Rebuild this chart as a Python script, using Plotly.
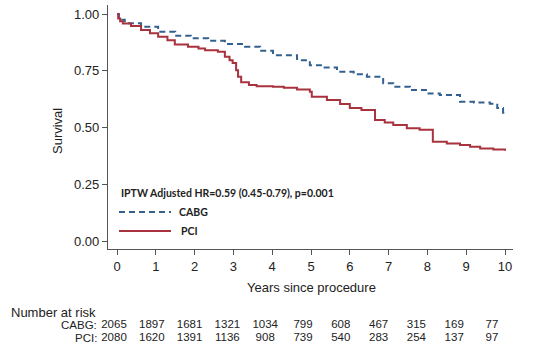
import plotly.graph_objects as go

# ---- data ----
pci_t = [0, 0.03, 0.08, 0.15, 0.36, 0.62, 0.85, 1.06, 1.3, 1.49, 1.83, 2.1, 2.27, 2.6, 2.78, 2.9, 2.98,
         3.07, 3.12, 3.2, 3.4, 3.6, 4.02, 4.3, 4.64, 4.97, 5.02, 5.41, 5.75, 6.0, 6.3, 6.65, 6.9, 7.12,
         7.47, 7.8, 8.14, 8.5, 8.84, 9.1, 9.36, 9.7, 10.0]
pci_s = [1.0, 0.98, 0.968, 0.958, 0.948, 0.93, 0.915, 0.90, 0.885, 0.866, 0.856, 0.848, 0.841, 0.834,
         0.812, 0.797, 0.784, 0.753, 0.724, 0.700, 0.687, 0.682, 0.680, 0.675, 0.668, 0.658, 0.636,
         0.621, 0.604, 0.586, 0.577, 0.533, 0.522, 0.511, 0.497, 0.490, 0.437, 0.430, 0.423, 0.415,
         0.408, 0.403, 0.398]

cabg_t = [0, 0.05, 0.2, 0.62, 1.06, 1.5, 1.9, 2.35, 2.78, 3.3, 3.69, 4.02, 4.64, 4.97, 5.3, 5.67, 6.1,
          6.44, 6.86, 7.12, 7.55, 8.0, 8.32, 8.84, 9.2, 9.61, 9.8, 9.95, 10.0]
cabg_s = [1.0, 0.975, 0.96, 0.944, 0.922, 0.904, 0.893, 0.882, 0.868, 0.856, 0.838, 0.819, 0.797,
          0.775, 0.765, 0.746, 0.735, 0.724, 0.695, 0.680, 0.665, 0.650, 0.643, 0.614, 0.610, 0.605,
          0.586, 0.565, 0.555]

risk_years = [0, 1, 2, 3, 4, 5, 6, 7, 8, 9, 10]
risk_cabg = [2065, 1897, 1681, 1321, 1034, 799, 608, 467, 315, 169, 77]
risk_pci = [2080, 1620, 1391, 1136, 908, 739, 540, 283, 254, 137, 97]

x_ticks = [0, 1, 2, 3, 4, 5, 6, 7, 8, 9, 10]
y_ticks = [0, 0.25, 0.5, 0.75, 1.0]
y_ticklabels = ["0.00", "0.25", "0.50", "0.75", "1.00"]

hr_text = "IPTW Adjusted HR=0.59 (0.45-0.79), p=0.001"

# ---- styling ----
W, H = 536, 351
BLUE = "#33608f"
RED = "#a8323e"
AX = "#555555"
TXT = "#222222"
FONT = "Liberation Sans, Arial, sans-serif"

def px_x(p):
    return p / W

def px_y(p):
    return 1 - p / H

fig = go.Figure()

fig.add_trace(go.Scatter(x=cabg_t, y=cabg_s, mode="lines", line_shape="hv",
                         line=dict(color=BLUE, width=2, dash="6px,4px"), name="CABG",
                         showlegend=False, xaxis="x", yaxis="y"))
fig.add_trace(go.Scatter(x=pci_t, y=pci_s, mode="lines", line_shape="hv",
                         line=dict(color=RED, width=2), name="PCI",
                         showlegend=False, xaxis="x", yaxis="y"))

# number at risk rows (on a hidden helper axis pair)
ROW_CABG_Y = 325
ROW_PCI_Y = 338
fig.add_trace(go.Scatter(x=risk_years, y=[ROW_CABG_Y] * len(risk_years), mode="text",
                         text=[str(v) for v in risk_cabg], textposition="middle center",
                         textfont=dict(family=FONT, size=11.5, color=TXT), cliponaxis=False,
                         showlegend=False, hoverinfo="skip", xaxis="x2", yaxis="y2"))
fig.add_trace(go.Scatter(x=risk_years, y=[ROW_PCI_Y] * len(risk_years), mode="text",
                         text=[str(v) for v in risk_pci], textposition="middle center",
                         textfont=dict(family=FONT, size=11.5, color=TXT), cliponaxis=False,
                         showlegend=False, hoverinfo="skip", xaxis="x2", yaxis="y2"))

xdom = [px_x(108), px_x(513)]
ydom = [px_y(249), px_y(5)]

annotations = [
    dict(text="Survival", textangle=-90, x=px_x(58), y=px_y(131), xref="paper", yref="paper",
         showarrow=False, font=dict(family=FONT, size=13, color=TXT), xanchor="center", yanchor="middle"),
    dict(text="Years since procedure", x=px_x(311), y=px_y(287), xref="paper", yref="paper",
         showarrow=False, font=dict(family=FONT, size=13, color=TXT), xanchor="center", yanchor="middle"),
    dict(text="Number at risk", x=px_x(9), y=px_y(312), xref="paper", yref="paper",
         showarrow=False, font=dict(family=FONT, size=13, color=TXT), xanchor="left", yanchor="middle"),
    dict(text="CABG:", x=px_x(99), y=px_y(ROW_CABG_Y), xref="paper", yref="paper",
         showarrow=False, font=dict(family=FONT, size=11.5, color=TXT), xanchor="right", yanchor="middle"),
    dict(text="PCI:", x=px_x(99), y=px_y(ROW_PCI_Y), xref="paper", yref="paper",
         showarrow=False, font=dict(family=FONT, size=11.5, color=TXT), xanchor="right", yanchor="middle"),
    dict(text="<b>" + hr_text + "</b>", x=px_x(119), y=px_y(193), xref="paper", yref="paper",
         showarrow=False, font=dict(family="Lato, sans-serif", size=10.5, color=TXT),
         xanchor="left", yanchor="middle"),
    dict(text="<b>CABG</b>", x=px_x(177), y=px_y(212), xref="paper", yref="paper",
         showarrow=False, font=dict(family="Lato, sans-serif", size=10.5, color=TXT),
         xanchor="left", yanchor="middle"),
    dict(text="<b>PCI</b>", x=px_x(179), y=px_y(231), xref="paper", yref="paper",
         showarrow=False, font=dict(family="Lato, sans-serif", size=10.5, color=TXT),
         xanchor="left", yanchor="middle"),
]

shapes = [
    dict(type="line", xref="paper", yref="paper", x0=px_x(119), x1=px_x(171), y0=px_y(212), y1=px_y(212),
         line=dict(color=BLUE, width=2, dash="6px,4px")),
    dict(type="line", xref="paper", yref="paper", x0=px_x(119), x1=px_x(171), y0=px_y(231), y1=px_y(231),
         line=dict(color=RED, width=2)),
]

fig.update_layout(
    width=W, height=H,
    margin=dict(l=0, r=0, t=0, b=0),
    paper_bgcolor="white",
    plot_bgcolor="rgba(0,0,0,0)",
    font=dict(family=FONT, size=13, color=TXT),
    showlegend=False,
    xaxis=dict(domain=xdom, anchor="y", range=[-0.232, 10.206], tickvals=x_ticks,
               ticks="outside", ticklen=5, tickwidth=1, tickcolor=AX,
               showline=True, linecolor=AX, linewidth=1.2, showgrid=False, zeroline=False,
               tickfont=dict(family=FONT, size=13, color=TXT)),
    yaxis=dict(domain=ydom, anchor="x", range=[-0.035, 1.04], tickvals=y_ticks, ticktext=y_ticklabels,
               ticks="outside", ticklen=5, tickwidth=1, tickcolor=AX,
               showline=True, linecolor=AX, linewidth=1.2, showgrid=False, zeroline=False,
               tickfont=dict(family=FONT, size=13, color=TXT)),
    xaxis2=dict(domain=xdom, anchor="y2", range=[-0.159, 10.556], visible=False, fixedrange=True),
    yaxis2=dict(domain=[0, 1], anchor="x2", range=[H, 0], visible=False, fixedrange=True),
    annotations=annotations,
    shapes=shapes,
)

fig.write_html("out.html")
